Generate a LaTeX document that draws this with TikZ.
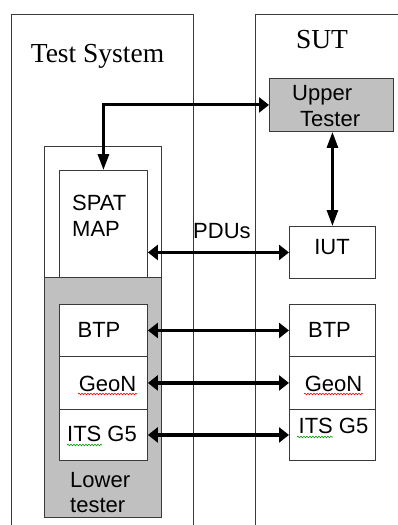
\documentclass[tikz,border=0pt]{standalone}
\usepackage{fontspec}
\setmainfont{Liberation Serif}
\setsansfont{Liberation Sans}
\usetikzlibrary{arrows.meta,decorations.pathmorphing}
\definecolor{ltgray}{HTML}{C0C0C0}
\definecolor{edge}{HTML}{3A3A3A}
\begin{document}
\begin{tikzpicture}[x=1pt,y=-1pt,
  frame/.style={draw=edge,line width=0.9pt},
  box/.style={draw=edge,line width=0.9pt,fill=white,rectangle,inner sep=0pt,anchor=north west},
  graybox/.style={box,fill=ltgray},
  sf/.style={font=\fontsize{22}{26}\selectfont\sffamily,inner sep=0pt},
  rm/.style={font=\fontsize{27.5}{32}\selectfont\rmfamily,inner sep=0pt},
  harr/.style={line width=3.2pt,{Triangle[length=10pt,width=15pt]}-{Triangle[length=10pt,width=15pt]}},
  varr/.style={line width=2.8pt,{Triangle[length=16pt,width=11pt]}-{Triangle[length=16pt,width=11pt]}},
  barr/.style={line width=3pt,{Triangle[length=16pt,width=11pt]}-{Triangle[length=10pt,width=15pt]}},
  wavy/.style={line width=0.6pt,decorate,decoration={snake,amplitude=0.8pt,segment length=3pt}}
]
\useasboundingbox (0,0) rectangle (398,525);
% system frames
\draw[frame] (11,530) -- (11,14) -- (193,14) -- (193,530);
\draw[frame] (400,14) -- (255,14) -- (255,530);
\node[rm,anchor=base] (tslabel) at (97.5,62) {Test System};
\node[rm,anchor=base] (sutlabel) at (322,48) {SUT};
% test side
\node[box,minimum width=117pt,minimum height=371pt] (tsbox) at (44,146) {};
\node[graybox,minimum width=117pt,minimum height=240pt] (lower) at (44,277) {};
\node[box,minimum width=88pt,minimum height=107pt] (spat) at (59,170) {};
\node[box,minimum width=88pt,minimum height=52pt] (btpL) at (59,304) {};
\node[box,minimum width=88pt,minimum height=53pt] (geoL) at (59,356) {};
\node[box,minimum width=88pt,minimum height=51pt] (itsL) at (59,409) {};
% SUT side
\node[graybox,minimum width=124pt,minimum height=53pt] (upper) at (269,78) {};
\node[box,minimum width=86pt,minimum height=52pt] (iut) at (289,226) {};
\node[box,minimum width=86pt,minimum height=52pt] (btpR) at (289,304) {};
\node[box,minimum width=86pt,minimum height=53pt] (geoR) at (289,356) {};
\node[box,minimum width=86pt,minimum height=51pt] (itsR) at (289,409) {};
% texts
\node[sf,anchor=base west] (t1) at (72,210) {SPAT};
\node[sf,anchor=base west] (t2) at (72,236) {MAP};
\node[sf,anchor=base west] (t3) at (292,100) {Upper};
\node[sf,anchor=base west] (t4) at (300,126) {Tester};
\node[sf,anchor=base] (t5) at (332,254) {IUT};
\node[sf,anchor=base west] (t6) at (193,238) {PDUs};
\node[sf,anchor=base] (t7) at (99,337) {BTP};
\node[sf,anchor=base] (t8) at (107.5,391) {GeoN};
\node[sf,anchor=base] (t9) at (102,441) {ITS G5};
\node[sf,anchor=base] (t10) at (329.5,337) {BTP};
\node[sf,anchor=base] (t11) at (333.5,391) {GeoN};
\node[sf,anchor=base] (t12) at (333.5,433) {ITS G5};
\node[sf,anchor=base west] (t13) at (70,487) {Lower};
\node[sf,anchor=base west] (t14) at (70,512) {tester};
% spell-check underlines
\draw[wavy,red] (78,394) -- (137,394);
\draw[wavy,red] (304,394) -- (363,394);
\draw[wavy,green!60!black] (67,445) -- (102,445);
\draw[wavy,green!60!black] (297,437) -- (333,437);
% connectors
\draw[barr] (spat.north) |- (upper.west);
\draw[varr] (iut.north |- upper.south) -- (iut.north);
\draw[harr] (spat.east |- iut.west) -- (iut.west);
\draw[harr] (btpL.east) -- (btpR.west);
\draw[harr] (geoL.east) -- (geoR.west);
\draw[harr] (itsL.east) -- (itsR.west);
\end{tikzpicture}
\end{document}
